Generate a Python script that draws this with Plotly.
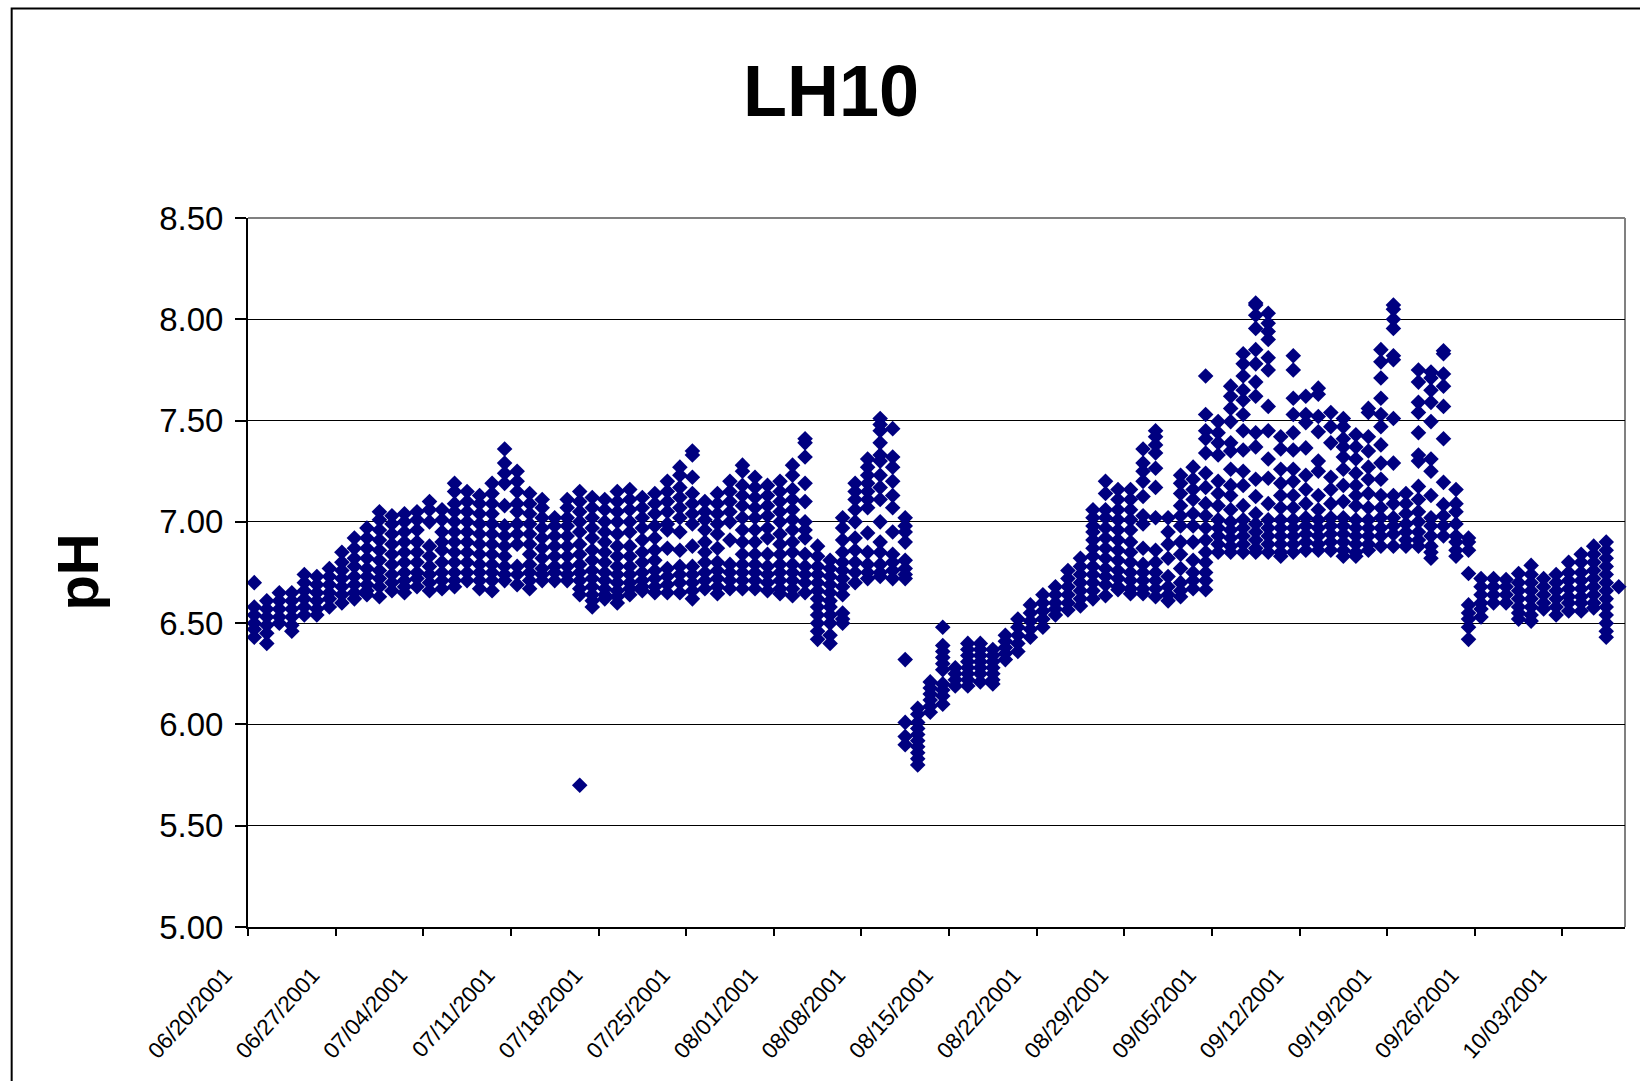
from datetime import datetime, timedelta

import plotly.graph_objects as go

TITLE = "LH10"
Y_TITLE = "pH"
FIRST_DAY = "2001-06-20"
LAST_DAY = "2001-10-08"

# one inner list per day, pH readings for that day
week_0620 = [
    [6.70, 6.58, 6.54, 6.50, 6.47, 6.43],
    [6.61, 6.57, 6.53, 6.49, 6.45, 6.40],
    [6.65, 6.61, 6.57, 6.53, 6.50],
    [6.65, 6.61, 6.57, 6.53, 6.49, 6.46],
    [6.74, 6.70, 6.66, 6.62, 6.58, 6.54],
    [6.73, 6.69, 6.65, 6.61, 6.57, 6.54],
    [6.77, 6.73, 6.69, 6.65, 6.62, 6.58],
]
week_0627 = [
    [6.85, 6.80, 6.76, 6.72, 6.68, 6.64, 6.60],
    [6.92, 6.87, 6.82, 6.78, 6.73, 6.69, 6.65, 6.62],
    [6.97, 6.92, 6.87, 6.82, 6.77, 6.73, 6.69, 6.66, 6.64],
    [7.05, 7.01, 6.96, 6.91, 6.86, 6.81, 6.76, 6.72, 6.68, 6.63],
    [7.03, 6.99, 6.94, 6.89, 6.84, 6.79, 6.74, 6.70, 6.66],
    [7.04, 7.00, 6.95, 6.90, 6.85, 6.80, 6.75, 6.71, 6.68, 6.65],
    [7.05, 7.01, 6.96, 6.90, 6.85, 6.80, 6.75, 6.72, 6.68],
]
week_0704 = [
    [7.10, 7.06, 7.00, 6.88, 6.83, 6.78, 6.74, 6.70, 6.66],
    [7.06, 7.01, 6.95, 6.90, 6.86, 6.80, 6.75, 6.71, 6.67],
    [7.19, 7.15, 7.09, 7.05, 7.00, 6.95, 6.90, 6.85, 6.80, 6.75, 6.71, 6.68],
    [7.15, 7.10, 7.05, 7.00, 6.95, 6.90, 6.85, 6.80, 6.75, 6.71],
    [7.13, 7.09, 7.04, 6.99, 6.94, 6.89, 6.84, 6.79, 6.75, 6.71, 6.67],
    [7.19, 7.14, 7.09, 7.04, 6.99, 6.94, 6.89, 6.84, 6.79, 6.75, 6.71, 6.66],
    [7.36, 7.29, 7.24, 7.19, 7.08, 6.98, 6.93, 6.88, 6.83, 6.78, 6.74, 6.71],
]
week_0711 = [
    [7.25, 7.20, 7.15, 7.09, 7.05, 6.99, 6.94, 6.89, 6.78, 6.74, 6.69],
    [7.14, 7.09, 7.04, 6.99, 6.94, 6.89, 6.84, 6.79, 6.75, 6.71, 6.67],
    [7.11, 7.07, 7.02, 6.97, 6.92, 6.87, 6.82, 6.77, 6.74, 6.71],
    [7.02, 6.98, 6.93, 6.88, 6.83, 6.78, 6.75, 6.71],
    [7.11, 7.07, 7.02, 6.98, 6.93, 6.88, 6.83, 6.78, 6.74, 6.71],
    [7.15, 7.10, 7.05, 7.00, 6.95, 6.89, 6.84, 6.79, 6.75, 6.71, 6.67, 6.64, 5.70],
    [7.12, 7.07, 7.02, 6.97, 6.92, 6.86, 6.81, 6.76, 6.72, 6.68, 6.64, 6.61, 6.58],
]
week_0718 = [
    [7.11, 7.06, 7.00, 6.95, 6.90, 6.85, 6.80, 6.75, 6.71, 6.67, 6.64, 6.62],
    [7.15, 7.10, 7.05, 7.00, 6.94, 6.88, 6.83, 6.78, 6.74, 6.70, 6.66, 6.63, 6.60],
    [7.16, 7.11, 7.06, 7.00, 6.95, 6.88, 6.83, 6.78, 6.74, 6.70, 6.67, 6.64],
    [7.12, 7.07, 7.02, 6.97, 6.91, 6.85, 6.80, 6.75, 6.71, 6.68, 6.66],
    [7.14, 7.09, 7.04, 6.98, 6.92, 6.86, 6.81, 6.76, 6.72, 6.68, 6.65],
    [7.20, 7.15, 7.10, 7.05, 6.99, 6.96, 6.87, 6.77, 6.73, 6.69, 6.65],
    [7.27, 7.23, 7.17, 7.12, 7.07, 7.02, 6.95, 6.86, 6.78, 6.74, 6.70, 6.65],
]
week_0725 = [
    [7.35, 7.33, 7.22, 7.14, 7.09, 7.04, 6.99, 6.88, 6.78, 6.74, 6.70, 6.66, 6.62],
    [7.10, 7.05, 7.01, 6.96, 6.90, 6.85, 6.80, 6.75, 6.71, 6.67],
    [7.14, 7.09, 7.04, 6.99, 6.94, 6.87, 6.80, 6.76, 6.72, 6.68, 6.645],
    [7.20, 7.15, 7.10, 7.05, 7.00, 6.91, 6.79, 6.75, 6.71, 6.67],
    [7.28, 7.25, 7.18, 7.13, 7.08, 7.02, 6.96, 6.90, 6.84, 6.79, 6.75, 6.71, 6.67],
    [7.22, 7.17, 7.12, 7.07, 7.02, 6.96, 6.90, 6.84, 6.79, 6.75, 6.71, 6.67],
    [7.18, 7.13, 7.08, 7.03, 6.97, 6.92, 6.84, 6.78, 6.74, 6.70, 6.66],
]
week_0801 = [
    [7.20, 7.15, 7.10, 7.05, 7.00, 6.94, 6.89, 6.84, 6.79, 6.75, 6.71, 6.67, 6.645],
    [7.28, 7.23, 7.16, 7.11, 7.06, 7.01, 6.96, 6.90, 6.85, 6.79, 6.75, 6.71, 6.67, 6.635],
    [7.41, 7.39, 7.32, 7.19, 7.10, 7.00, 6.96, 6.92, 6.84, 6.78, 6.74, 6.70, 6.65],
    [6.88, 6.83, 6.78, 6.74, 6.70, 6.66, 6.62, 6.58, 6.54, 6.50, 6.46, 6.42],
    [6.81, 6.77, 6.73, 6.69, 6.65, 6.61, 6.58, 6.54, 6.50, 6.44, 6.40],
    [7.02, 6.97, 6.91, 6.85, 6.80, 6.76, 6.72, 6.68, 6.64, 6.55, 6.52, 6.50],
    [7.19, 7.15, 7.11, 7.06, 7.00, 6.92, 6.86, 6.80, 6.75, 6.70],
]
week_0808 = [
    [7.31, 7.27, 7.23, 7.19, 7.15, 7.11, 7.07, 6.945, 6.85, 6.79, 6.75, 6.72],
    [7.51, 7.48, 7.45, 7.39, 7.33, 7.30, 7.23, 7.17, 7.11, 7.00, 6.90, 6.85, 6.79, 6.75, 6.73],
    [7.46, 7.32, 7.27, 7.20, 7.13, 7.07, 6.95, 6.84, 6.80, 6.76, 6.72],
    [7.02, 6.98, 6.95, 6.90, 6.81, 6.77, 6.74, 6.72, 6.32, 6.01, 5.94, 5.90],
    [6.08, 6.05, 6.01, 5.98, 5.95, 5.92, 5.89, 5.86, 5.83, 5.80],
    [6.21, 6.18, 6.15, 6.12, 6.09, 6.06],
    [6.48, 6.39, 6.36, 6.33, 6.30, 6.27, 6.20, 6.17, 6.14, 6.10],
]
week_0815 = [
    [6.28, 6.25, 6.22, 6.19],
    [6.40, 6.37, 6.34, 6.31, 6.28, 6.25, 6.22, 6.19],
    [6.40, 6.37, 6.34, 6.31, 6.28, 6.25, 6.21],
    [6.37, 6.34, 6.31, 6.28, 6.25, 6.22, 6.20],
    [6.44, 6.41, 6.38, 6.35, 6.32],
    [6.52, 6.48, 6.44, 6.40, 6.36],
    [6.59, 6.55, 6.51, 6.47, 6.43],
]
week_0822 = [
    [6.64, 6.60, 6.56, 6.52, 6.48],
    [6.68, 6.64, 6.60, 6.57, 6.54],
    [6.76, 6.72, 6.68, 6.64, 6.60, 6.565],
    [6.82, 6.78, 6.74, 6.70, 6.66, 6.62, 6.585],
    [7.06, 7.02, 6.98, 6.95, 6.91, 6.87, 6.83, 6.78, 6.74, 6.70, 6.66, 6.62],
    [7.20, 7.14, 7.06, 7.02, 6.97, 6.92, 6.87, 6.82, 6.77, 6.73, 6.69, 6.635],
    [7.16, 7.11, 7.06, 7.01, 6.96, 6.91, 6.86, 6.81, 6.76, 6.72, 6.68, 6.665],
]
week_0829 = [
    [7.16, 7.11, 7.06, 7.01, 6.96, 6.90, 6.85, 6.80, 6.75, 6.71, 6.67, 6.645],
    [7.36, 7.29, 7.25, 7.20, 7.125, 7.03, 6.99, 6.87, 6.79, 6.75, 6.71, 6.67, 6.645],
    [7.45, 7.42, 7.38, 7.34, 7.265, 7.17, 7.02, 6.86, 6.80, 6.75, 6.71, 6.67, 6.63],
    [7.02, 6.95, 6.89, 6.82, 6.73, 6.68, 6.64, 6.61],
    [7.23, 7.19, 7.14, 7.08, 7.03, 6.98, 6.90, 6.84, 6.77, 6.70, 6.66, 6.63],
    [7.27, 7.21, 7.16, 7.11, 7.04, 6.98, 6.90, 6.81, 6.75, 6.71, 6.67],
    [7.72, 7.53, 7.45, 7.41, 7.34, 7.24, 7.17, 7.09, 7.03, 6.97, 6.91, 6.85, 6.80, 6.75, 6.71, 6.665],
]
week_0905 = [
    [7.495, 7.44, 7.39, 7.33, 7.20, 7.14, 7.08, 7.01, 6.97, 6.93, 6.89, 6.85],
    [7.67, 7.62, 7.56, 7.495, 7.39, 7.35, 7.26, 7.18, 7.13, 7.06, 7.00, 6.96, 6.92, 6.88, 6.85],
    [7.83, 7.78, 7.72, 7.65, 7.60, 7.53, 7.45, 7.355, 7.25, 7.18, 7.08, 7.01, 6.97, 6.93, 6.89, 6.85],
    [8.08, 8.07, 8.02, 7.955, 7.85, 7.78, 7.69, 7.62, 7.44, 7.37, 7.21, 7.125, 7.04, 6.99, 6.95, 6.91, 6.87, 6.85],
    [8.03, 7.98, 7.94, 7.90, 7.81, 7.75, 7.57, 7.45, 7.31, 7.215, 7.09, 7.01, 6.97, 6.93, 6.89, 6.85],
    [7.42, 7.36, 7.26, 7.19, 7.13, 7.07, 7.01, 6.97, 6.93, 6.89, 6.85, 6.83],
    [7.82, 7.75, 7.61, 7.53, 7.44, 7.355, 7.26, 7.20, 7.13, 7.07, 7.01, 6.97, 6.93, 6.89, 6.85],
]
week_0912 = [
    [7.62, 7.53, 7.49, 7.365, 7.23, 7.16, 7.09, 7.02, 6.98, 6.94, 6.90, 6.86],
    [7.66, 7.63, 7.52, 7.445, 7.30, 7.25, 7.13, 7.06, 7.01, 6.97, 6.93, 6.89, 6.86],
    [7.54, 7.47, 7.39, 7.22, 7.16, 7.09, 7.02, 6.98, 6.94, 6.90, 6.86],
    [7.51, 7.47, 7.41, 7.37, 7.32, 7.26, 7.18, 7.10, 7.02, 6.98, 6.94, 6.90, 6.86, 6.83],
    [7.43, 7.37, 7.31, 7.24, 7.18, 7.13, 7.08, 7.01, 6.97, 6.93, 6.89, 6.85, 6.83],
    [7.56, 7.54, 7.42, 7.35, 7.27, 7.21, 7.14, 7.07, 7.01, 6.97, 6.93, 6.89, 6.86],
    [7.85, 7.79, 7.71, 7.61, 7.53, 7.47, 7.38, 7.29, 7.21, 7.13, 7.07, 7.02, 6.97, 6.93, 6.88],
]
week_0919 = [
    [8.07, 8.05, 8.00, 7.955, 7.82, 7.80, 7.51, 7.29, 7.13, 7.09, 7.02, 6.98, 6.94, 6.88],
    [7.14, 7.09, 7.04, 6.99, 6.95, 6.91, 6.88],
    [7.75, 7.69, 7.59, 7.54, 7.44, 7.33, 7.30, 7.175, 7.11, 7.05, 7.00, 6.95, 6.91, 6.88],
    [7.74, 7.71, 7.65, 7.59, 7.495, 7.31, 7.25, 7.13, 7.02, 6.98, 6.93, 6.88, 6.85, 6.82],
    [7.845, 7.83, 7.73, 7.67, 7.57, 7.41, 7.195, 7.085, 7.03, 6.98, 6.93],
    [7.16, 7.09, 7.05, 6.99, 6.93, 6.90, 6.86, 6.83],
    [6.92, 6.90, 6.86, 6.745, 6.59, 6.55, 6.52, 6.48, 6.42],
]
week_0926 = [
    [6.72, 6.68, 6.64, 6.60, 6.57, 6.53],
    [6.72, 6.68, 6.64, 6.60],
    [6.715, 6.68, 6.64, 6.60],
    [6.745, 6.70, 6.66, 6.62, 6.58, 6.55, 6.52],
    [6.785, 6.74, 6.70, 6.66, 6.62, 6.58, 6.54, 6.51],
    [6.72, 6.68, 6.64, 6.60, 6.57],
    [6.74, 6.70, 6.66, 6.62, 6.58, 6.54],
]
week_1003 = [
    [6.80, 6.75, 6.71, 6.67, 6.63, 6.60, 6.56],
    [6.84, 6.80, 6.75, 6.71, 6.67, 6.63, 6.60, 6.56],
    [6.88, 6.84, 6.80, 6.76, 6.72, 6.68, 6.64, 6.60, 6.575],
    [6.90, 6.86, 6.82, 6.78, 6.74, 6.70, 6.66, 6.62, 6.58, 6.54, 6.50, 6.46, 6.43],
    [6.68],
]

weeks = [
    week_0620, week_0627, week_0704, week_0711, week_0718, week_0725,
    week_0801, week_0808, week_0815, week_0822, week_0829, week_0905,
    week_0912, week_0919, week_0926, week_1003,
]

# readings sit at midday of their date, not on the tick
start = datetime.strptime(FIRST_DAY, "%Y-%m-%d") + timedelta(hours=12)
x, y = [], []
day = 0
for week in weeks:
    for readings in week:
        for value in readings:
            x.append(start + timedelta(days=day))
            y.append(value)
        day += 1

fig = go.Figure()
fig.add_trace(go.Scatter(
    x=x, y=y, mode="markers", cliponaxis=False, showlegend=False,
    marker=dict(symbol="diamond", size=12, color="#000080", line=dict(width=0)),
))

FONT = "Liberation Sans, Arial, sans-serif"
W, H = 1640, 1081
L, R, T, B = 247.5, 1625.5, 217.7, 927.3
PW, PH = R - L, B - T

fig.update_layout(
    width=W, height=H,
    margin=dict(l=L, r=W - R, t=T, b=H - B),
    paper_bgcolor="white", plot_bgcolor="white",
    font=dict(family=FONT, color="black"),
    title=dict(
        text=f"<b>{TITLE}</b>", font=dict(size=72, family=FONT),
        x=(831 - L) / PW, xanchor="center", xref="paper",
        y=1 - 91 / H, yanchor="middle", yref="container",
    ),
    annotations=[dict(
        text=f"<b>{Y_TITLE}</b>", textangle=-90, showarrow=False,
        font=dict(size=58, family=FONT),
        xref="paper", yref="paper", xanchor="center", yanchor="middle",
        x=(76 - L) / PW, y=(B - 572) / PH,
    )],
    shapes=[
        # outer chart frame, runs off the right and bottom of the page
        dict(type="rect", xref="paper", yref="paper", layer="below",
             x0=(11 - L) / PW, x1=(W + 20 - L) / PW,
             y0=(B - H - 20) / PH, y1=(B - 8) / PH,
             line=dict(color="black", width=2)),
        dict(type="line", xref="paper", yref="paper", layer="below",
             x0=0, x1=1, y0=1, y1=1, line=dict(color="#808080", width=2)),
        dict(type="line", xref="paper", yref="paper", layer="below",
             x0=1, x1=1, y0=0, y1=1, line=dict(color="#808080", width=2)),
    ],
)
fig.update_xaxes(
    type="date", range=[FIRST_DAY, LAST_DAY],
    tick0=FIRST_DAY, dtick=7 * 86400000, tickformat="%m/%d/%Y",
    tickangle=-48, tickfont=dict(size=22.5, family=FONT),
    ticks="outside", ticklen=7, tickwidth=2, tickcolor="black",
    ticklabelstandoff=17, ticklabelshift=-23,
    showgrid=False, zeroline=False,
    showline=True, linecolor="black", linewidth=2,
)
fig.update_yaxes(
    range=[5, 8.5], dtick=0.5, tickformat=".2f",
    tickfont=dict(size=33, family=FONT),
    ticks="outside", ticklen=11, tickwidth=2, tickcolor="black",
    ticklabelstandoff=5,
    showgrid=True, gridcolor="black", gridwidth=1, zeroline=False,
    showline=True, linecolor="black", linewidth=2,
)

fig.write_html(
    "out.html",
    config=dict(displayModeBar=False),
    post_script="document.body.style.margin='0';document.body.style.overflow='hidden';",
)
